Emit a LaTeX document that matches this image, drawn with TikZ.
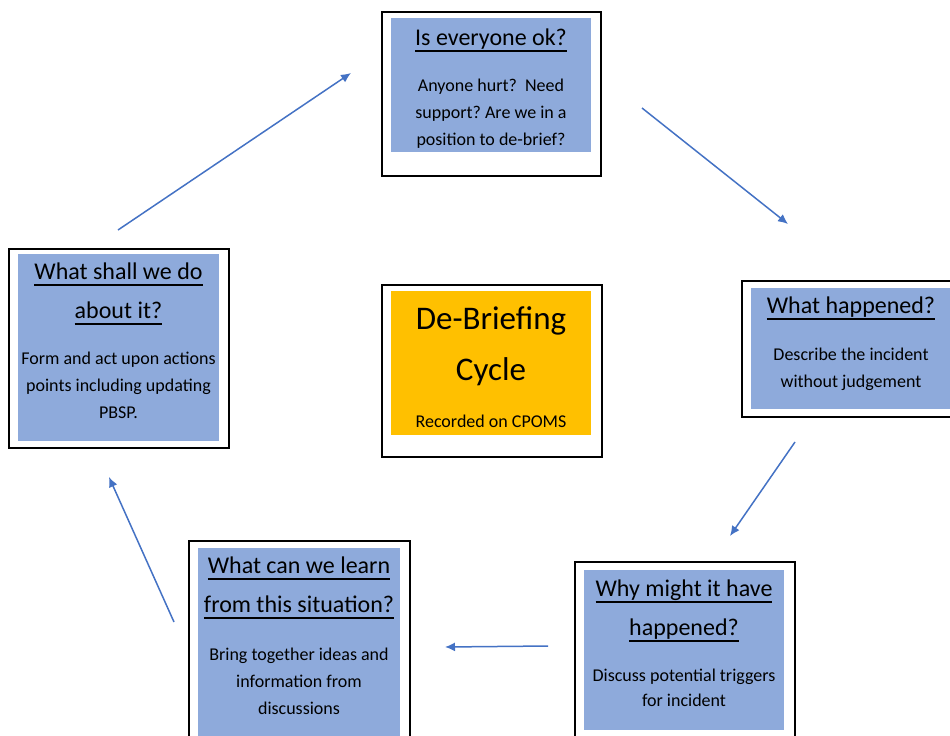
\documentclass[tikz,border=0pt]{standalone}
\usepackage{fontspec}
\setmainfont{Carlito}
\usepackage{tikz}
\usetikzlibrary{arrows.meta}
\definecolor{cardblue}{HTML}{8EAADB}
\definecolor{cycleorange}{HTML}{FFC000}
\definecolor{arrowblue}{HTML}{4472C4}
\frenchspacing
\newsavebox{\titlebox}
\newcommand{\titleline}[1]{\sbox{\titlebox}{#1}\rlap{\rule[-6.5bp]{\wd\titlebox}{1.3bp}}\usebox{\titlebox}}
\tikzset{
  cardframe/.style={draw=black,line width=1.5bp,fill=white,inner sep=0pt},
  card/.style={inner sep=0pt,fill=cardblue},
  heading/.style={align=center,anchor=base,inner sep=0pt,font=\fontsize{24bp}{39bp}\selectfont},
  blurb/.style={align=center,anchor=base,inner sep=0pt,font=\fontsize{18bp}{27bp}\selectfont},
  flow/.style={-{Latex[length=10bp,width=9bp]},draw=arrowblue,line width=1.5bp},
}

\begin{document}
\begin{tikzpicture}
\clip (0bp,0bp) rectangle (950bp,-736bp);

% anchor=base sits on the last line of each text
\node (OK) at (491.5bp,-94bp)[cardframe,minimum width=219bp,minimum height=164bp] {};
\node (OKfill) at (491bp,-85bp)[card,minimum width=200bp,minimum height=134bp] {};
\node (OKtitle) at (491bp,-45bp)[heading] {\titleline{Is everyone ok?}};
\node (OKtext) at (491bp,-145bp)[blurb] {Anyone hurt?\ \ Need\\support? Are we in a\\position to de-brief?};

\node (Happened) at (852bp,-349bp)[cardframe,minimum width=220bp,minimum height=136bp] {};
\node (Happenedfill) at (851bp,-348.5bp)[card,minimum width=200bp,minimum height=121bp] {};
\node (Happenedtitle) at (851bp,-313bp)[heading] {\titleline{What happened?}};
\node (Happenedtext) at (851bp,-387bp)[blurb] {Describe the incident\\without judgement};

\node (Why) at (685bp,-661bp)[cardframe,minimum width=220bp,minimum height=198bp] {};
\node (Whyfill) at (684bp,-650bp)[card,minimum width=200bp,minimum height=160bp] {};
\node (Whytitle) at (684bp,-635bp)[heading] {\titleline{Why might it have}\\\titleline{happened?}};
\node (Whytext) at (684bp,-706bp)[blurb,font=\fontsize{18bp}{25bp}\selectfont] {Discuss potential triggers\\for incident};

\node (Learn) at (299.5bp,-650.5bp)[cardframe,minimum width=221bp,minimum height=219bp] {};
\node (Learnfill) at (299bp,-646.5bp)[card,minimum width=202bp,minimum height=197bp] {};
\node (Learntitle) at (299bp,-612bp)[heading] {\titleline{What can we learn}\\\titleline{from this situation?}};
\node (Learntext) at (299bp,-714bp)[blurb] {Bring together ideas and\\information from\\discussions};

\node (Act) at (119bp,-348.5bp)[cardframe,minimum width=220bp,minimum height=199bp] {};
\node (Actfill) at (118.5bp,-347.5bp)[card,minimum width=201bp,minimum height=187bp] {};
\node (Acttitle) at (118.5bp,-318bp)[heading] {\titleline{What shall we do}\\\titleline{about it?}};
\node (Acttext) at (118.5bp,-418bp)[blurb] {Form and act upon actions\\points including updating\\PBSP.};

\node (Cycle) at (492bp,-371bp)[cardframe,minimum width=220bp,minimum height=172bp] {};
\node (Cyclefill) at (491bp,-363bp)[inner sep=0pt,fill=cycleorange,minimum width=200bp,minimum height=144bp] {};
\node (Cycletitle) at (491bp,-380bp)[heading,font=\fontsize{33bp}{51bp}\selectfont] {De-Briefing\\Cycle};
\node (Cycletext) at (491bp,-427bp)[blurb] {Recorded on CPOMS};

\coordinate (OKout) at (642bp,-108bp);
\coordinate (Happenedin) at (788bp,-224bp);
\coordinate (Happenedout) at (795bp,-442bp);
\coordinate (Whyin) at (730bp,-536bp);
\coordinate (Whyout) at (548bp,-646bp);
\coordinate (Learnin) at (445bp,-647bp);
\coordinate (Learnout) at (174bp,-622bp);
\coordinate (Actin) at (109bp,-477bp);
\coordinate (Actout) at (118bp,-230bp);
\coordinate (OKin) at (351bp,-73bp);
\draw [flow] (OKout) to (Happenedin);
\draw [flow] (Happenedout) to (Whyin);
\draw [flow] (Whyout) to (Learnin);
\draw [flow] (Learnout) to (Actin);
\draw [flow] (Actout) to (OKin);
\end{tikzpicture}
\end{document}
